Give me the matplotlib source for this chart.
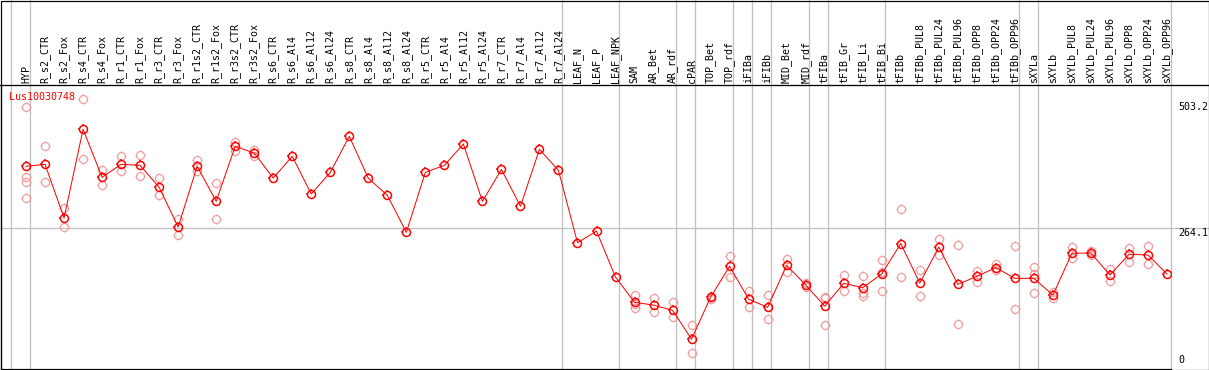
import matplotlib
matplotlib.use("Agg")
import numpy as np
import matplotlib.pyplot as plt
import matplotlib.path as mpath
import matplotlib.transforms as mtransforms
from matplotlib.patches import Rectangle
from matplotlib.lines import Line2D

# ---------------- data ----------------
categories = ["HYP", "R_s2_CTR", "R_s2_Fox", "R_s4_CTR", "R_s4_Fox", "R_r1_CTR", "R_r1_Fox",
              "R_r3_CTR", "R_r3_Fox", "R_r1s2_CTR", "R_r1s2_Fox", "R_r3s2_CTR", "R_r3s2_Fox",
              "R_s6_CTR", "R_s6_Al4", "R_s6_Al12", "R_s6_Al24", "R_s8_CTR", "R_s8_Al4",
              "R_s8_Al12", "R_s8_Al24", "R_r5_CTR", "R_r5_Al4", "R_r5_Al12", "R_r5_Al24",
              "R_r7_CTR", "R_r7_Al4", "R_r7_Al12", "R_r7_Al24", "LEAF_N", "LEAF_P", "LEAF_NPK",
              "SAM", "AR_Bet", "AR_rdf", "cPAR", "TOP_Bet", "TOP_rdf", "iFIBa", "iFIBb",
              "MID_Bet", "MID_rdf", "tFIBa", "tFIB_Gr", "tFIB_Li", "tFIB_Bi", "tFIBb",
              "tFIBb_PUL8", "tFIBb_PUL24", "tFIBb_PUL96", "tFIBb_OPP8", "tFIBb_OPP24",
              "tFIBb_OPP96", "sXYLa", "sXYLb", "sXYLb_PUL8", "sXYLb_PUL24", "sXYLb_PUL96",
              "sXYLb_OPP8", "sXYLb_OPP24", "sXYLb_OPP96"]

mean_values = [381.6, 385.3, 283.8, 451.5, 360.8, 385.3, 383.4, 341.8, 266.7, 381.6, 315.3,
               419.4, 406.7, 359.4, 400.5, 329.2, 370.2, 438.3, 358.9, 326.7, 256.7, 370.2,
               383.4, 423.8, 315.3, 375.7, 305.9, 413.6, 373.8, 237.0, 259.0, 172.0, 124.2,
               119.0, 109.0, 54.5, 134.0, 192.5, 130.0, 114.8, 194.2, 157.0, 117.0, 160.2,
               151.9, 178.0, 235.5, 160.5, 228.9, 158.3, 173.4, 189.8, 169.5, 169.6, 138.0,
               217.0, 217.5, 175.9, 215.1, 213.8, 177.8]

replicates = [[493.0, 362.0, 352.0, 321.6], [419.4, 351.3], [302.7, 266.2], [509.5, 394.8],
              [374.6, 345.6], [401.1, 372.1], [402.3, 362.6], [358.9, 326.7], [281.2, 251.0],
              [393.5, 372.1], [349.4, 281.3], [427.5, 411.1], [412.4, 400.5],
              [], [], [], [], [], [], [], [], [], [], [], [], [], [], [], [], [], [], [],
              [138.7, 121.0, 112.9], [132.4, 105.3], [124.2, 95.8], [81.3, 28.4],
              [137.0, 131.0], [211.9, 172.7], [145.7, 116.0], [137.4, 92.1], [206.8, 180.9],
              [160.5, 153.5], [134.3, 133.0, 80.7], [175.9, 145.7], [173.4, 142.5, 135.6],
              [204.3, 181.6, 146.4], [300.2, 172.2], [184.7, 135.6], [244.0, 213.1],
              [232.7, 83.2], [184.0, 163.3], [196.1, 184.7], [230.2, 111.1],
              [191.1, 177.8, 141.9], [144.3, 132.0], [228.3, 208.1], [220.7, 213.1],
              [187.3, 164.6], [227.6, 201.1], [231.4, 196.7], []]

group_starts = [0, 1, 29, 32, 35, 36, 38, 39, 40, 42, 43, 46, 53, 54, 61]
series_name = "Lus10030748"
axis_labels = [0, 264.1, 503.2]

# ---------------- style ----------------
W, H, DPI = 1209, 370, 100
MONO = "DejaVu Sans Mono"
FS = 7.2
RED = "#ff0000"
PINK = "#f09a9a"
GRID = "#c0c0c0"
px = 72.0 / DPI  # one pixel in points

# tick-only marker (drawn on top of a plain circle marker)
tick_path = mpath.Path([(1, 0), (1.3, 0), (-1, 0), (-1.3, 0), (0, 1), (0, 1.3), (0, -1), (0, -1.3)],
                       [mpath.Path.MOVETO, mpath.Path.LINETO] * 4)
CIRC = 8.0   # circle diameter in px
TICK = CIRC * 1.3

fig = plt.figure(figsize=(W / DPI, H / DPI), dpi=DPI)
fig.patch.set_facecolor("white")

left_px, right_px, top_px, bot_px = 1.0, 1170.7, 85.0, 369.0
ax = fig.add_axes([left_px / W, (H - bot_px) / H, (right_px - left_px) / W, (bot_px - top_px) / H])
ax.set_facecolor("white")

n = len(categories)
xs = list(range(n))
off = 0.805
ax.set_xlim(-1.316, n - off)
ax.set_ylim(-1.9, 535.4)

for sp in ["right", "top"]:
    ax.spines[sp].set_visible(False)
for sp in ["left", "bottom"]:
    ax.spines[sp].set_color("black")
    ax.spines[sp].set_linewidth(1.2 * px)

ymax_frac = (bot_px - 0.0) / (bot_px - top_px)
for k in group_starts:
    ax.axvline(k - off, ymin=0, ymax=ymax_frac, color=GRID, lw=1.3 * px, clip_on=False, zorder=0)

xmax_frac = (1208.0 - left_px) / (right_px - left_px)
ax.axhline(axis_labels[1], xmin=0, xmax=xmax_frac, color=GRID, lw=1.3 * px, clip_on=False, zorder=0)

ax.add_line(Line2D([-left_px / (right_px - left_px), xmax_frac], [1, 1], transform=ax.transAxes,
                   color="black", lw=1.3 * px, clip_on=False))

# replicates
rx, ry = [], []
for i, reps in enumerate(replicates):
    for v in reps:
        rx.append(i)
        ry.append(v)
for mk, ms in (("o", CIRC), (tick_path, TICK)):
    ax.plot(rx, ry, linestyle="none", marker=mk, markersize=ms * px, markerfacecolor="none",
            markeredgecolor=PINK, markeredgewidth=1.2 * px, zorder=2, clip_on=False)

# mean line and markers
ax.plot(xs, mean_values, color=RED, lw=1.0 * px, zorder=3)
for mk, ms in (("o", CIRC), (tick_path, TICK)):
    ax.plot(xs, mean_values, linestyle="none", marker=mk, markersize=ms * px,
            markerfacecolor="none", markeredgecolor=RED, markeredgewidth=1.5 * px, zorder=4)

# category labels on top
ax.set_xticks(xs)
ax.set_xticklabels(categories, rotation=90, fontfamily=MONO, fontsize=FS, color="black")
ax.tick_params(axis="x", top=True, bottom=False, labeltop=True, labelbottom=False,
               length=0, pad=1.2)
ax.set_yticks([])

# right-hand value labels
trans = mtransforms.blended_transform_factory(ax.transAxes, ax.transData)
xlab = (1178.0 - left_px) / (right_px - left_px)
for v in axis_labels:
    if v == 0:
        tr = mtransforms.offset_copy(trans, fig=fig, x=0, y=2.5 * px, units="points")
        ax.text(xlab, v, "0", transform=tr, ha="left", va="bottom",
                fontfamily=MONO, fontsize=FS, clip_on=False)
    else:
        ax.text(xlab, v, f"{v:g}", transform=trans, ha="left", va="top",
                fontfamily=MONO, fontsize=FS, clip_on=False)

# series name
ax.text(8.0 / (right_px - left_px), 1 - 12.0 / (bot_px - top_px), series_name,
        transform=ax.transAxes, ha="left", va="center", color=RED,
        fontfamily=MONO, fontsize=FS)

# outer frame
fig.add_artist(Rectangle((0.5 / W, 0.5 / H), (W - 1.0) / W, (H - 1.0) / H,
                         transform=fig.transFigure, fill=False, ec="black", lw=1.2 * px))

fig.savefig("out.png", dpi=DPI, facecolor="white")
